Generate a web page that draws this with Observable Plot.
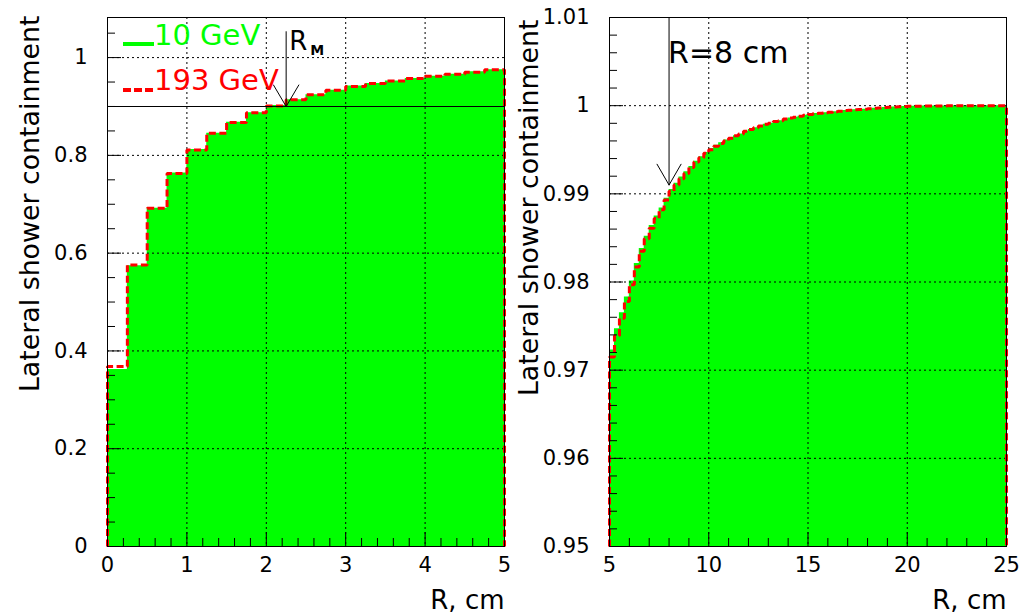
<!DOCTYPE html>
<html><head><meta charset="utf-8">
<script src="https://cdn.jsdelivr.net/npm/d3@7"></script>
<script src="https://cdn.jsdelivr.net/npm/@observablehq/plot@0.6"></script>
<style>
body{margin:0;background:#fff;}
#wrap{position:relative;width:1024px;height:614px;overflow:hidden;font-family:"DejaVu Sans";background:#fff;}
#left{position:absolute;left:0;top:0;}
#right{position:absolute;left:512px;top:0;}
.legtxt{position:absolute;font-family:"DejaVu Sans";font-size:29px;line-height:29px;white-space:nowrap;}
.legline{position:absolute;height:4px;}
</style></head><body>
<div id="wrap">
  <div id="left"></div>
  <div id="right"></div>
  <div id="legend"></div>
</div>
<script>
// ---- data ----
const binWidth = 0.25;
const leftStart = 0;
const rightStart = 5;
const seriesNames = ["10 GeV", "193 GeV"];
const seriesColors = ["#00ff00", "#ff0000"];

// left panel: 0..5 cm, 0.25 cm bins
const leftGreen10 = [0.362, 0.574, 0.692, 0.764, 0.812, 0.845, 0.868, 0.887, 0.902, 0.914,
                     0.924, 0.933, 0.942, 0.947, 0.952, 0.957, 0.962, 0.966, 0.971, 0.975];
const leftRed193  = [0.368, 0.576, 0.692, 0.763, 0.811, 0.845, 0.867, 0.887, 0.901, 0.914,
                     0.924, 0.933, 0.941, 0.947, 0.952, 0.957, 0.962, 0.966, 0.970, 0.975];

// right panel: 5..25 cm, 0.25 cm bins
const rightRed193 = [
  0.9715, 0.9739, 0.9759, 0.9778, 0.9797, 0.9817, 0.9835, 0.9849, 0.9861, 0.9872,
  0.9882, 0.9893, 0.9903, 0.9910, 0.9917, 0.9923, 0.9930, 0.9936, 0.9941, 0.9946,
  0.9950, 0.9954, 0.9957, 0.9960, 0.9963, 0.9966, 0.9968, 0.9971, 0.9973, 0.9975,
  0.9977, 0.9979, 0.9980, 0.9982, 0.9983, 0.9985, 0.9986, 0.9987, 0.9988, 0.9989,
  0.9990, 0.9991, 0.99915, 0.9992, 0.99926, 0.99932, 0.99938, 0.99944, 0.99949, 0.99953,
  0.99957, 0.9996, 0.99966, 0.9997, 0.99974, 0.99978, 0.99981, 0.99984, 0.99987, 0.9999,
  0.99992, 0.99993, 0.99994, 0.99995, 0.99996, 0.99996, 0.99997, 0.99997, 0.99998, 0.99998,
  0.99998, 0.99999, 0.99999, 0.99999, 0.99999, 1.0, 1.0, 1.0, 1.0, 1.0];
const rightGreen10 = [
  0.9723, 0.9747, 0.9765, 0.9783, 0.9801, 0.9821, 0.9838, 0.9852, 0.9864, 0.9875,
  0.9884, 0.9895, 0.9905, 0.9912, 0.9919, 0.9925, 0.9931, 0.9937, 0.9942, 0.9947,
  0.9951, 0.9955, 0.9958, 0.9961, 0.9964, 0.9966, 0.9968, 0.9971, 0.9973, 0.9975,
  0.9977, 0.9979, 0.9980, 0.9982, 0.9983, 0.9985, 0.9986, 0.9987, 0.9988, 0.9989,
  0.9990, 0.9991, 0.99915, 0.9992, 0.99926, 0.99932, 0.99938, 0.99944, 0.99949, 0.99953,
  0.99957, 0.9996, 0.99966, 0.9997, 0.99974, 0.99978, 0.99981, 0.99984, 0.99987, 0.9999,
  0.99992, 0.99993, 0.99994, 0.99995, 0.99996, 0.99996, 0.99997, 0.99997, 0.99998, 0.99998,
  0.99998, 0.99999, 0.99999, 0.99999, 0.99999, 1.0, 1.0, 1.0, 1.0, 1.0];

// axes
const leftXDomain = [0, 5], leftYDomain = [0, 1.082];
const rightXDomain = [5, 25], rightYDomain = [0.95, 1.01];
const leftXTicks = [0, 1, 2, 3, 4, 5];
const leftYTicks = [0, 0.2, 0.4, 0.6, 0.8, 1];
const rightXTicks = [5, 10, 15, 20, 25];
const rightYTicks = [0.95, 0.96, 0.97, 0.98, 0.99, 1, 1.01];
const xTitle = "R, cm";
const yTitle = "Lateral shower containment";

// annotations
const containmentLevel = [0.9];
const moliereArrow = [{x: 2.25, yTop: 1.053, yTip: 0.9, label: "R", sub: "M"}];
const cutArrow = [{x: 8, yTop: 1.01, yTip: 0.991, label: "R=8 cm"}];

// ---- helpers ----
const fmt = d3.format("~g");
function minorTicks(lo, hi, step, majors) {
  const out = [];
  const n = Math.round((hi - lo) / step);
  for (let i = 0; i <= n; i++) {
    const v = +(lo + i * step).toFixed(6);
    if (!majors.some(m => Math.abs(m - v) < step / 10)) out.push(v);
  }
  return out;
}
function stepPoints(start, vals, base) {
  const pts = [{x: start, y: base}];
  vals.forEach((v, i) => pts.push({x: start + i * binWidth, y: v}));
  const end = start + vals.length * binWidth;
  pts.push({x: end, y: vals[vals.length - 1]});
  pts.push({x: end, y: base});
  return pts;
}

function panel(o) {
  const W = 512, H = 614, mt = 17, mb = 68;
  const fw = W - o.marginLeft - o.marginRight, fh = H - mt - mb;
  const base = o.yDomain[0];
  const g = stepPoints(o.start, o.green, base);
  const r = stepPoints(o.start, o.red, base);
  return Plot.plot({
    width: W, height: H, marginTop: mt, marginBottom: mb,
    marginLeft: o.marginLeft, marginRight: o.marginRight,
    style: {fontFamily: "DejaVu Sans", background: "white", color: "black", overflow: "visible"},
    x: {domain: o.xDomain},
    y: {domain: o.yDomain},
    marks: [
      Plot.areaY(g, {x: "x", y1: base, y2: "y", curve: "step-after", fill: seriesColors[0]}),
      Plot.gridX(o.xTicks, {stroke: "black", strokeOpacity: 1, strokeWidth: 1, strokeDasharray: "2,3"}),
      Plot.gridY(o.yTicks, {stroke: "black", strokeOpacity: 1, strokeWidth: 1, strokeDasharray: "2,3"}),
      Plot.line(r, {x: "x", y: "y", curve: "step-after", stroke: seriesColors[1], strokeWidth: 3,
                    strokeDasharray: "7,3.5", strokeLinecap: "butt", strokeLinejoin: "miter"}),
      ...o.extra,
      Plot.frame({stroke: "black", strokeWidth: 1}),
      Plot.ruleX(o.xTicks, {insetTop: fh - 14, stroke: "black"}),
      Plot.ruleX(o.xMinor, {insetTop: fh - 8, stroke: "black"}),
      Plot.ruleY(o.yTicks, {insetRight: fw - 14, stroke: "black"}),
      Plot.ruleY(o.yMinor, {insetRight: fw - 8, stroke: "black"}),
      Plot.axisX({ticks: o.xTicks, tickSize: 0, tickPadding: 11, fontSize: 21, tickFormat: fmt, label: null}),
      Plot.axisY({ticks: o.yTicks, tickSize: 0, tickPadding: 20, fontSize: 21, tickFormat: fmt, label: null}),
      Plot.text([xTitle], {text: d => d, frameAnchor: "bottom-right", textAnchor: "end",
                           lineAnchor: "bottom", dy: 62, dx: 0, fontSize: 26, fill: "black"}),
      Plot.text([yTitle], {text: d => d, frameAnchor: "top-left", rotate: -90, textAnchor: "end",
                           lineAnchor: "bottom", dx: o.yTitleDx, dy: o.yTitleDy, fontSize: 26.8, fill: "black"})
    ]
  });
}

const leftPlot = panel({
  xDomain: leftXDomain, yDomain: leftYDomain, xTicks: leftXTicks, yTicks: leftYTicks,
  xMinor: minorTicks(0, 5, 0.2, leftXTicks), yMinor: minorTicks(0, 1.05, 0.05, leftYTicks),
  green: leftGreen10, red: leftRed193, start: leftStart,
  marginLeft: 107, marginRight: 8, yTitleDx: -69, yTitleDy: -2,
  extra: [
    Plot.ruleY(containmentLevel, {stroke: "black", strokeWidth: 1.2}),
    Plot.arrow(moliereArrow, {x: "x", y1: "yTop", y2: "yTip", stroke: "black", strokeWidth: 1,
                              headLength: 42, headAngle: 61}),
    Plot.text(moliereArrow, {x: "x", y: "yTop", text: "label", dx: 3, dy: 18, lineAnchor: "bottom",
                             textAnchor: "start", fontSize: 26, fill: "black"}),
    Plot.text(moliereArrow, {x: "x", y: "yTop", text: "sub", dx: 24, dy: 23, lineAnchor: "bottom",
                             textAnchor: "start", fontSize: 14, fontWeight: "bold", fill: "black"})
  ]
});

const rightPlot = panel({
  xDomain: rightXDomain, yDomain: rightYDomain, xTicks: rightXTicks, yTicks: rightYTicks,
  xMinor: minorTicks(5, 25, 1, rightXTicks), yMinor: minorTicks(0.95, 1.01, 0.002, rightYTicks),
  green: rightGreen10, red: rightRed193, start: rightStart,
  marginLeft: 97, marginRight: 18, yTitleDx: -72, yTitleDy: 2,
  extra: [
    Plot.arrow(cutArrow, {x: "x", y1: "yTop", y2: "yTip", stroke: "black", strokeWidth: 1,
                          headLength: 36, headAngle: 60}),
    Plot.text(cutArrow, {x: "x", y: "yTop", text: "label", dx: -1, dy: 45, lineAnchor: "bottom",
                         textAnchor: "start", fontSize: 30, fill: "black"})
  ]
});

document.getElementById("left").appendChild(leftPlot);
document.getElementById("right").appendChild(rightPlot);

// legend (HTML overlay on the left panel)
const legend = document.getElementById("legend");
const legendRows = [
  {name: seriesNames[0], color: seriesColors[0], lineTop: 42, textTop: 20.5,
   bg: seriesColors[0]},
  {name: seriesNames[1], color: seriesColors[1], lineTop: 87.5, textTop: 65.5,
   bg: "repeating-linear-gradient(90deg, " + seriesColors[1] + " 0 7.5px, transparent 7.5px 11px)"}
];
legendRows.forEach(row => {
  const ln = document.createElement("div");
  ln.className = "legline";
  ln.style.left = "123px"; ln.style.width = "31px"; ln.style.top = row.lineTop + "px";
  ln.style.background = row.bg;
  legend.appendChild(ln);
  const tx = document.createElement("div");
  tx.className = "legtxt";
  tx.style.left = "154px"; tx.style.top = row.textTop + "px"; tx.style.color = row.color;
  tx.textContent = row.name;
  legend.appendChild(tx);
});
</script>
</body></html>
